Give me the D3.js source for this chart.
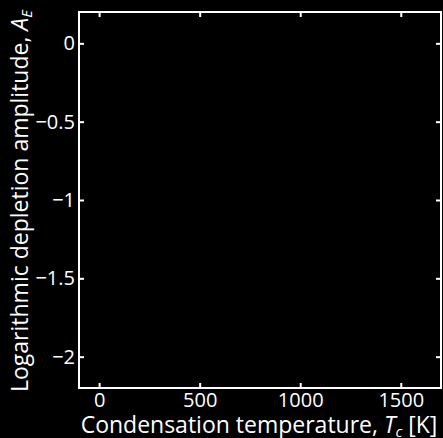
<!DOCTYPE html>
<html>
<head>
<meta charset="utf-8">
<script src="https://cdn.jsdelivr.net/npm/d3@7"></script>
<style>
  html, body { margin: 0; padding: 0; background: #000; }
  svg { display: block; }
  text { font-family: "Open Sans", "Noto Sans", sans-serif; fill: #fff; }
</style>
</head>
<body>
<script>
// Axis ranges and tick values
const xDomain = [-100, 1700];
const yDomain = [-2.2, 0.2];
const xTicks = [0, 500, 1000, 1500];
const yTicks = [0, -0.5, -1, -1.5, -2];
const yTickLabels = ["0", "\u22120.5", "\u22121", "\u22121.5", "\u22122"];

const W = 443, H = 438;
const m = { left: 79, right: 2, top: 12, bottom: 50 };

const svg = d3.select("body").append("svg")
  .attr("width", W).attr("height", H)
  .style("background", "#000");

const x = d3.scaleLinear().domain(xDomain).range([m.left, W - m.right]);
const y = d3.scaleLinear().domain(yDomain).range([H - m.bottom, m.top]);

const tickLen = 5;

// Bottom axis with labels, ticks pointing inward
const gx = svg.append("g").attr("transform", `translate(0,${H - m.bottom})`)
  .call(d3.axisBottom(x).tickValues(xTicks).tickFormat(d3.format("d"))
    .tickSizeInner(-tickLen).tickSizeOuter(0).tickPadding(5));
// Top axis, ticks only
const gxt = svg.append("g").attr("transform", `translate(0,${m.top})`)
  .call(d3.axisTop(x).tickValues(xTicks).tickFormat("")
    .tickSizeInner(-tickLen).tickSizeOuter(0));
// Left axis with labels
const gy = svg.append("g").attr("transform", `translate(${m.left},0)`)
  .call(d3.axisLeft(y).tickValues(yTicks).tickFormat((d, i) => yTickLabels[i])
    .tickSizeInner(-tickLen).tickSizeOuter(0).tickPadding(4));
// Right axis, ticks only
const gyr = svg.append("g").attr("transform", `translate(${W - m.right},0)`)
  .call(d3.axisRight(y).tickValues(yTicks).tickFormat("")
    .tickSizeInner(-tickLen).tickSizeOuter(0));

[gx, gxt, gy, gyr].forEach(g => {
  g.select(".domain").remove();
  g.selectAll(".tick line").attr("stroke", "#fff").attr("stroke-width", 2);
  g.selectAll(".tick text").attr("fill", "#fff").style("font-size", "20px")
    .style("font-family", "'Open Sans', 'Noto Sans', sans-serif");
});

// Plot frame
svg.append("rect")
  .attr("x", m.left).attr("y", m.top)
  .attr("width", W - m.right - m.left).attr("height", H - m.bottom - m.top)
  .attr("fill", "none").attr("stroke", "#fff").attr("stroke-width", 2);

// X axis title
const xt = svg.append("text")
  .attr("x", 259).attr("y", H - 5)
  .attr("text-anchor", "middle").style("font-size", "23px");
xt.append("tspan").text("Condensation temperature, ");
xt.append("tspan").attr("font-style", "italic").text("T");
xt.append("tspan").attr("font-style", "italic").attr("dy", 4).style("font-size", "15px").text("c");
xt.append("tspan").attr("dy", -4).text(" [K]");

// Y axis title
const yt = svg.append("text")
  .attr("transform", `translate(28,${201}) rotate(-90)`)
  .attr("text-anchor", "middle").style("font-size", "23px");
yt.append("tspan").text("Logarithmic depletion amplitude, ");
yt.append("tspan").attr("font-style", "italic").text("A");
yt.append("tspan").attr("font-style", "italic").attr("dy", 4).style("font-size", "15px").text("E");
</script>
</body>
</html>
